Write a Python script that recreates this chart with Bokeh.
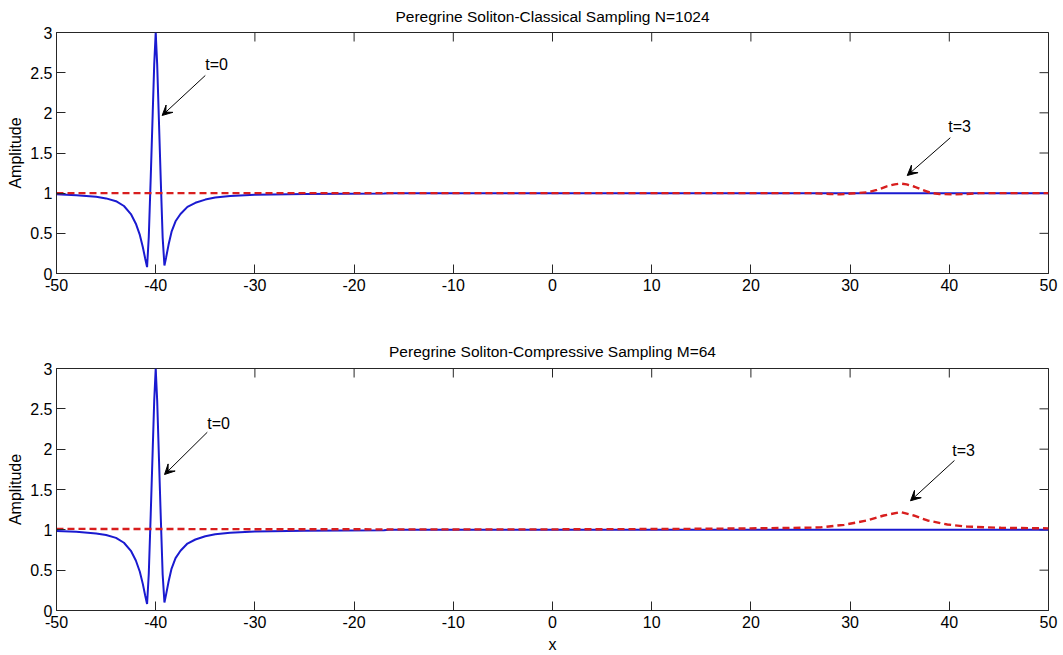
import math
from bokeh.plotting import figure
from bokeh.models import Range1d, Arrow, VeeHead, FixedTicker
from bokeh.layouts import column
from bokeh.embed import file_html
from bokeh.resources import INLINE
from bokeh.core.properties import value

# ---------------- data ----------------
x_ticks = [-50, -40, -30, -20, -10, 0, 10, 20, 30, 40, 50]
x_tick_labels = ["-50", "-40", "-30", "-20", "-10", "0", "10", "20", "30", "40", "50"]
y_ticks = [0, 0.5, 1, 1.5, 2, 2.5, 3]
y_tick_labels = ["0", "0.5", "1", "1.5", "2", "2.5", "3"]

titles = ["Peregrine Soliton-Classical Sampling N=1024",
          "Peregrine Soliton-Compressive Sampling M=64"]

# t=0 profile (blue, solid) - same in both panels
t0_x = [-50, -48, -46, -45, -44, -43.2, -42.5, -42.0, -41.6, -41.3, -41.05, -40.87,
        -40.7, -40.5, -40.3, -40.15, -40.0, -39.85, -39.7, -39.5, -39.3, -39.12,
        -38.95, -38.7, -38.4, -38.0, -37.5, -36.8, -36.0, -35.0, -34.0, -32.5,
        -30, -25, -17, -16.5, 50]
t0_amp = [0.985, 0.975, 0.955, 0.935, 0.9, 0.84, 0.74, 0.62, 0.48, 0.33, 0.18, 0.08,
          0.45, 1.2, 2.0, 2.6, 3.0, 2.6, 2.0, 1.2, 0.45, 0.1,
          0.2, 0.36, 0.52, 0.65, 0.74, 0.83, 0.88, 0.92, 0.945, 0.965,
          0.98, 0.99, 0.995, 1.0, 1.0]

# t=3 profile, classical sampling (red, dashed)
t3_cls_x = [-50, 26, 28, 29, 30, 31.7, 32.7, 33.7, 34.5, 35.1, 35.7, 36.5, 37.3,
            38.1, 39, 40.5, 41.5, 43, 50]
t3_cls_amp = [1.0, 1.0, 0.99, 0.985, 0.995, 1.01, 1.04, 1.085, 1.11, 1.12, 1.11,
              1.08, 1.04, 1.005, 0.99, 0.985, 0.988, 1.0, 1.0]

# t=3 profile, compressive sampling (red, dashed)
t3_cs_x = [-50, -30, -10, 0, 10, 15, 20, 25, 27, 29.4, 31.7, 33.4, 35.1, 36.4,
           37.8, 39.8, 41.8, 45.2, 50]
t3_cs_amp = [1.012, 1.008, 1.005, 1.006, 1.01, 1.013, 1.018, 1.025, 1.03, 1.062,
             1.116, 1.178, 1.22, 1.178, 1.116, 1.066, 1.04, 1.025, 1.018]

# annotations: label, text position, arrow tail, arrow head
ann_top = [("t=0", (-35.0, 2.6), (-35.0, 2.465), (-39.35, 1.967)),
           ("t=3", (39.9, 1.83), (40.1, 1.69), (35.76, 1.22))]
ann_bot = [("t=0", (-34.8, 2.32), (-34.8, 2.21), (-39.11, 1.686)),
           ("t=3", (40.3, 1.98), (40.52, 1.86), (36.09, 1.36))]

X_MIN, X_MAX = -50, 50
Y_MIN, Y_MAX = 0, 3

FONT = "Liberation Sans"
AX_COL = "#262626"
BLUE = "#1a1ad0"
RED = "#d81e1e"
TICK_LEN = 9


def style_axis(ax, ticks, labels):
    ax.ticker = FixedTicker(ticks=ticks)
    ax.major_label_overrides = {float(t): l for t, l in zip(ticks, labels)}
    ax.major_tick_in = TICK_LEN
    ax.major_tick_out = 0
    ax.minor_tick_line_color = None
    ax.axis_line_color = AX_COL
    ax.major_tick_line_color = AX_COL
    ax.major_label_text_font = FONT
    ax.major_label_text_font_size = "16px"
    ax.major_label_text_color = "black"
    ax.axis_label_text_font = FONT
    ax.axis_label_text_font_size = "16px"
    ax.axis_label_text_font_style = "normal"
    ax.axis_label_text_color = "black"


def make_panel(title, frame_h, top_border, bottom_border, title_standoff,
               red_x, red_amp, anns, xlabel):
    p = figure(frame_width=992, frame_height=frame_h,
               x_range=Range1d(X_MIN, X_MAX), y_range=Range1d(Y_MIN, Y_MAX),
               output_backend="svg", toolbar_location=None,
               min_border_left=56, min_border_right=15,
               min_border_top=top_border, min_border_bottom=bottom_border,
               title=title)
    p.title.align = "center"
    p.title.vertical_align = "top"
    p.title.text_font = FONT
    p.title.text_font_size = "15.5px"
    p.title.text_font_style = "normal"
    p.title.text_color = "black"
    p.title.standoff = title_standoff
    p.grid.visible = False
    p.outline_line_color = AX_COL
    p.background_fill_color = "white"
    p.border_fill_color = "white"

    style_axis(p.xaxis[0], x_ticks, x_tick_labels)
    p.xaxis[0].major_label_standoff = 5
    p.xaxis[0].axis_label_standoff = 5
    if xlabel:
        p.xaxis[0].axis_label = xlabel
    style_axis(p.yaxis[0], y_ticks, y_tick_labels)
    p.yaxis[0].major_label_standoff = 4
    p.yaxis[0].axis_label_standoff = 3
    p.yaxis[0].axis_label = "Amplitude"

    # inward tick marks on the top and right edges of the box (half of each
    # dash marker lies outside the frame and is clipped away)
    p.scatter(x=x_ticks, y=[Y_MAX] * len(x_ticks), marker="dash", size=2 * TICK_LEN,
              angle=math.pi / 2, line_color=AX_COL, line_width=1)
    p.scatter(x=[X_MAX] * len(y_ticks), y=y_ticks, marker="dash", size=2 * TICK_LEN,
              line_color=AX_COL, line_width=1)

    p.line(t0_x, t0_amp, line_color=BLUE, line_width=2)
    p.line(red_x, red_amp, line_color=RED, line_width=2.4, line_dash="7 4")

    for label, (tx, ty), (ax0, ay0), (ax1, ay1) in anns:
        p.text(x=[tx], y=[ty], text=[label], text_font=value(FONT),
               text_font_size="16px", text_align="left", text_baseline="middle",
               text_color="black")
        p.add_layout(Arrow(end=VeeHead(size=10, fill_color="black", line_color="black"),
                           x_start=ax0, y_start=ay0, x_end=ax1, y_end=ay1,
                           line_color="black", line_width=1))
    return p


p1 = make_panel(titles[0], 241, 32, 40, 12, t3_cls_x, t3_cls_amp, ann_top, None)
p2 = make_panel(titles[1], 242, 55, 45, 14, t3_cs_x, t3_cs_amp, ann_bot, "x")

p = column(p1, p2)
open("out.html", "w").write(file_html(p, INLINE))
